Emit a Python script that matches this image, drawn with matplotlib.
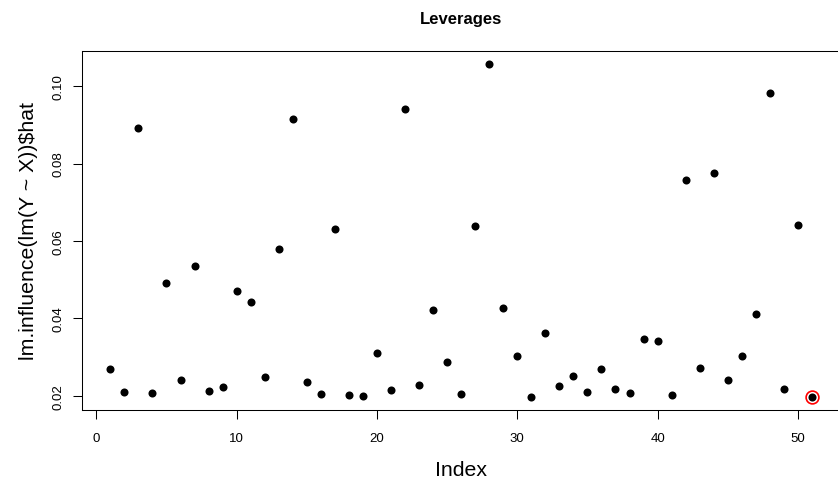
import matplotlib.pyplot as plt
import numpy as np

# Leverages (hat values) for each observation
index = list(range(1, 52))
hat = [0.0269, 0.0211, 0.0893, 0.0208, 0.0491, 0.0240, 0.0535, 0.0212, 0.0222, 0.0472,
       0.0442, 0.0248, 0.0579, 0.0916, 0.0235, 0.0204, 0.0632, 0.0201, 0.0199, 0.0311,
       0.0215, 0.0942, 0.0229, 0.0421, 0.0287, 0.0204, 0.0639, 0.1057, 0.0426, 0.0304,
       0.0197, 0.0362, 0.0225, 0.0252, 0.0211, 0.0270, 0.0218, 0.0208, 0.0348, 0.0342,
       0.0201, 0.0757, 0.0273, 0.0775, 0.0240, 0.0303, 0.0411, 0.0982, 0.0217, 0.0640,
       0.0197]
highlight = [51]

xticks = [0, 10, 20, 30, 40, 50]
yticks = [0.02, 0.04, 0.06, 0.08, 0.10]
ytick_labels = ["0.02", "0.04", "0.06", "0.08", "0.10"]

plt.rcParams['font.family'] = ['Liberation Sans', 'DejaVu Sans']

fig = plt.figure(figsize=(8.38, 4.81), dpi=100)
W, H = 838, 481
# R-style plot region; right edge falls just outside the image (cropped)
ax = fig.add_axes([82.3 / W, (H - 411.3) / H, (840 - 82.3) / W, (411.3 - 51.7) / H])

ax.plot(index, hat, 'o', color='black', markersize=5.8, markeredgewidth=0)
hx = [i for i in highlight]
hy = [hat[i - 1] for i in highlight]
ax.plot(hx, hy, 'o', markerfacecolor='none', markeredgecolor='red',
        markersize=9.2, markeredgewidth=1.2)

# R's default 4% axis extension
xmin, xmax = min(index), max(index)
ymin, ymax = min(hat), max(hat)
dx = (xmax - xmin) * 0.04
dy = (ymax - ymin) * 0.04
ax.set_xlim(xmin - dx, xmax + dx)
ax.set_ylim(ymin - dy, ymax + dy)

ax.set_xticks(xticks)
ax.set_xticklabels([str(t) for t in xticks])
ax.set_yticks(yticks)
ax.set_yticklabels(ytick_labels, rotation=90, va='center')

ax.tick_params(axis='both', length=6.5, width=0.75, labelsize=9.5, pad=6)
ax.tick_params(axis='x', pad=9)
for s in ax.spines.values():
    s.set_linewidth(0.75)
ax.spines['right'].set_visible(False)

ax.set_title("Leverages", fontsize=12, fontweight='bold', pad=20)
ax.set_xlabel("Index", fontsize=15.3, labelpad=12)
ax.set_ylabel(r"lm.influence(lm(Y ~ X))\$hat", fontsize=15.3, labelpad=11)

fig.savefig("out.png", dpi=100)
